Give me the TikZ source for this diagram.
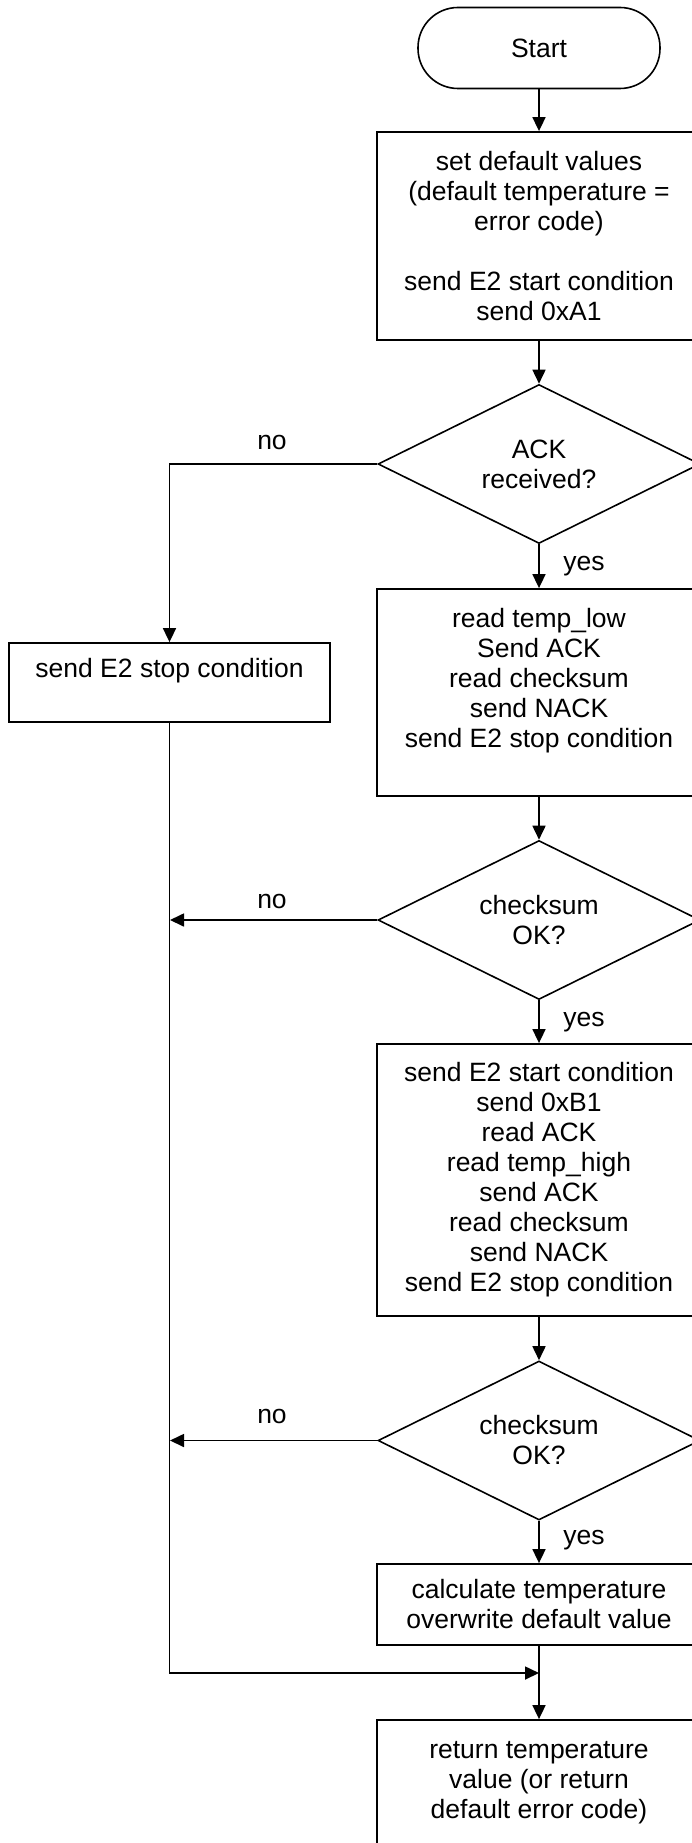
\documentclass[tikz,border=0pt]{standalone}
\usepackage{fontspec}
\setmainfont{Liberation Sans}
\usetikzlibrary{shapes.geometric,arrows.meta}
\begin{document}
\begin{tikzpicture}[x=1pt,y=-1pt,
  every node/.style={font=\fontsize{26.5}{30}\selectfont, inner sep=0pt},
  proc/.style={draw, line width=1.8pt, rectangle, minimum width=324pt, align=center},
  dec/.style={draw, line width=1.6pt, diamond, aspect=2, minimum width=322pt, minimum height=159pt, align=center},
  term/.style={draw, line width=1.6pt, rounded corners=40pt, minimum width=242pt, minimum height=81pt},
  flow/.style={line width=1.7pt, -{Triangle[length=14pt,width=13pt]}},
  lbl/.style={anchor=center}]
\useasboundingbox (0,0) rectangle (692,1843);
\clip (0,0) rectangle (692,1843);

\node[term] (start) at (539,48) {Start};
\node[proc, minimum height=208pt] (b1) at (539,236)
  {set default values\\(default temperature =\\error code)\\[30pt]send E2 start condition\\send 0xA1};
\node[dec] (d1) at (539,464) {ACK\\received?};
\node[proc, minimum height=207pt] (b2) at (539,692.5)
  {read temp\_low\\Send ACK\\read checksum\\send NACK\\send E2 stop condition\\\mbox{}};
\node[proc, minimum width=321pt, minimum height=79pt] (lb) at (169.5,682.5)
  {send E2 stop condition\\\mbox{}};
\node[dec] (d2) at (539,920) {checksum\\OK?};
\node[proc, minimum height=272pt] (b3) at (539,1180)
  {send E2 start condition\\send 0xB1\\read ACK\\read temp\_high\\send ACK\\read checksum\\send NACK\\send E2 stop condition};
\node[dec] (d3) at (539,1440.5) {checksum\\OK?};
\node[proc, minimum height=81pt] (b4) at (539,1604.5)
  {calculate temperature\\overwrite default value};
\node[proc, minimum height=150pt] (b5) at (539,1795)
  {return temperature\\value (or return\\default error code)\\\mbox{}};

\coordinate (j) at (539,1673);
\coordinate (l2) at (170,920);
\coordinate (l3) at (170,1440.5);

\draw[flow] (start) -- (b1);
\draw[flow] (b1) -- (d1);
\draw[flow] (d1) -- (b2);
\draw[flow] (b2) -- (d2);
\draw[flow] (d2) -- (b3);
\draw[flow] (b3) -- (d3);
\draw[flow] (d3) -- (b4);
\draw[flow] (b4) -- (b5);
\draw[flow] (d1.west) -| (lb.north);
\draw[flow] (lb.south) |- (j);
\draw[flow] (d2.west) -- (l2);
\draw[flow] (d3.west) -- (l3);

\node[lbl] (n1) at (272,442) {no};
\node[lbl] (n2) at (272,901) {no};
\node[lbl] (n3) at (272,1416) {no};
\node[lbl] (y1) at (584,566) {yes};
\node[lbl] (y2) at (584,1022) {yes};
\node[lbl] (y3) at (584,1540) {yes};
\end{tikzpicture}
\end{document}
